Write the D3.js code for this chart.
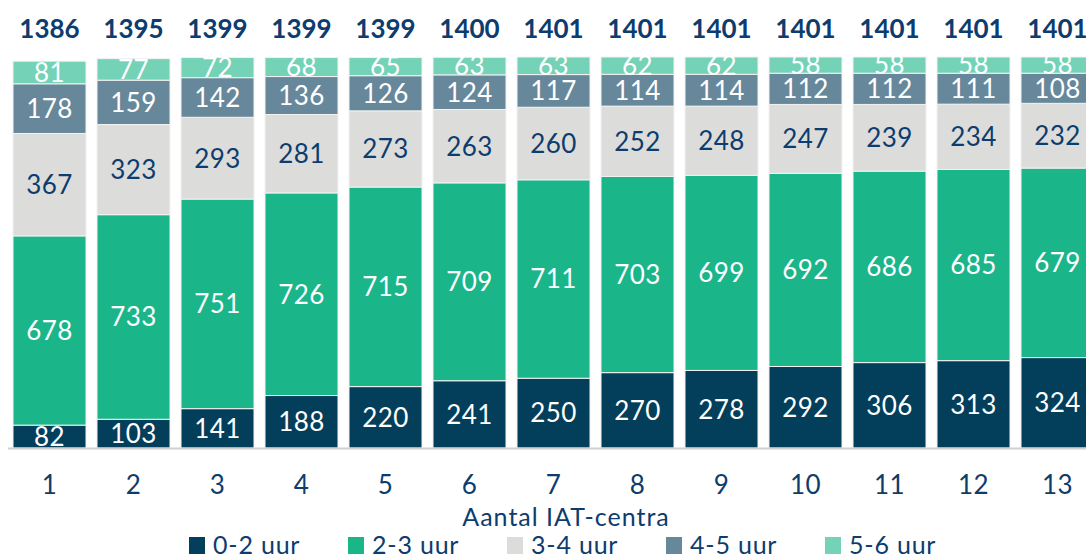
<!DOCTYPE html>
<html>
<head>
<meta charset="utf-8">
<script src="https://cdn.jsdelivr.net/npm/d3@7"></script>
<style>
  body { margin: 0; background: #fff; }
  svg { display: block; font-family: Lato, "Open Sans", sans-serif; }
</style>
</head>
<body>
<svg id="chart" width="1086" height="557"></svg>
<script>
// categories (aantal IAT-centra)
const centra = ['1', '2', '3', '4', '5', '6', '7', '8', '9', '10', '11', '12', '13'];
const series = ['0-2 uur', '2-3 uur', '3-4 uur', '4-5 uur', '5-6 uur'];

const uur0_2 = [82, 103, 141, 188, 220, 241, 250, 270, 278, 292, 306, 313, 324];
const uur2_3 = [678, 733, 751, 726, 715, 709, 711, 703, 699, 692, 686, 685, 679];
const uur3_4 = [367, 323, 293, 281, 273, 263, 260, 252, 248, 247, 239, 234, 232];
const uur4_5 = [178, 159, 142, 136, 126, 124, 117, 114, 114, 112, 112, 111, 108];
const uur5_6 = [81, 77, 72, 68, 65, 63, 63, 62, 62, 58, 58, 58, 58];
const totals = [1386, 1395, 1399, 1399, 1399, 1400, 1401, 1401, 1401, 1401, 1401, 1401, 1401];

const colors = ['#033e5b', '#1bb58a', '#dcdcdb', '#67889a', '#74d2b6'];
const textColors = ['#fff', '#fff', '#0d3c6e', '#fff', '#fff'];
const navy = '#0d3c6e';
const fontSize = '26px';
const spacing = '0.5px';

const rows = centra.map((c, i) => ({
    c: c,
    '0-2 uur': uur0_2[i],
    '2-3 uur': uur2_3[i],
    '3-4 uur': uur3_4[i],
    '4-5 uur': uur4_5[i],
    '5-6 uur': uur5_6[i],
    total: totals[i]
}));

const svg = d3.select('#chart');

// band positions: bar 1 starts ~13px, step 84px
const xScale = d3.scaleBand()
    .domain(centra)
    .range([7.5, 7.5 + 84 * 13])
    .paddingInner(11 / 84)
    .paddingOuter(5.5 / 84);

const yScale = d3.scaleLinear()
    .domain([0, 1401])
    .range([448, 57]);

const stack = d3.stack().keys(series);
const stacked = stack(rows);

const layers = svg.append('g').selectAll('g')
    .data(stacked)
    .join('g')
    .attr('fill', (d, i) => colors[i]);

layers.selectAll('rect')
    .data(d => d)
    .join('rect')
    .attr('x', d => xScale(d.data.c))
    .attr('width', xScale.bandwidth())
    .attr('y', d => yScale(d[1]))
    .attr('height', d => yScale(d[0]) - yScale(d[1]))
    .attr('stroke', '#f2f2f2')
    .attr('stroke-width', 1);

// segment labels
stacked.forEach((layer, li) => {
    svg.append('g').selectAll('text')
        .data(layer)
        .join('text')
        .attr('x', d => xScale(d.data.c) + xScale.bandwidth() / 2)
        .attr('y', d => (yScale(d[0]) + yScale(d[1])) / 2)
        .attr('dy', '0.36em')
        .attr('text-anchor', 'middle')
        .attr('fill', textColors[li])
        .style('font-size', fontSize)
        .style('letter-spacing', spacing)
        .text(d => d[1] - d[0]);
});

// baseline
svg.append('line')
    .attr('x1', 8).attr('x2', 1086)
    .attr('y1', 448.5).attr('y2', 448.5)
    .attr('stroke', '#d0d0d0')
    .attr('stroke-width', 2);

// totals on top
svg.append('g').selectAll('text')
    .data(rows)
    .join('text')
    .attr('x', d => xScale(d.c) + xScale.bandwidth() / 2)
    .attr('y', 29)
    .attr('dy', '0.36em')
    .attr('text-anchor', 'middle')
    .attr('fill', navy)
    .style('font-size', fontSize)
    .style('font-weight', 'bold')
    .text(d => d.total);

// x axis
const xAxis = d3.axisBottom(xScale).tickSize(0).tickPadding(0);
const xAxisGroup = svg.append('g')
    .attr('transform', 'translate(0,475)')
    .call(xAxis);
xAxisGroup.select('.domain').remove();
xAxisGroup.selectAll('text')
    .attr('fill', navy)
    .attr('dy', '0.36em')
    .attr('y', 10)
    .style('font-size', fontSize)
    .style('letter-spacing', spacing)
    .style('font-family', 'Lato, sans-serif');

svg.append('text')
    .attr('x', 566)
    .attr('y', 517)
    .attr('dy', '0.36em')
    .attr('text-anchor', 'middle')
    .attr('fill', navy)
    .style('font-size', '25px')
    .style('letter-spacing', '1px')
    .text('Aantal IAT-centra');

// legend
const legend = svg.append('g').selectAll('g')
    .data(series)
    .join('g')
    .attr('transform', (d, i) => `translate(${189 + i * 159},537)`);
legend.append('rect')
    .attr('width', 16).attr('height', 17)
    .attr('fill', (d, i) => colors[i]);
legend.append('text')
    .attr('x', 24)
    .attr('y', 8)
    .attr('dy', '0.36em')
    .attr('fill', navy)
    .style('font-size', '25px')
    .style('letter-spacing', '0.8px')
    .text(d => d);
</script>
</body>
</html>
